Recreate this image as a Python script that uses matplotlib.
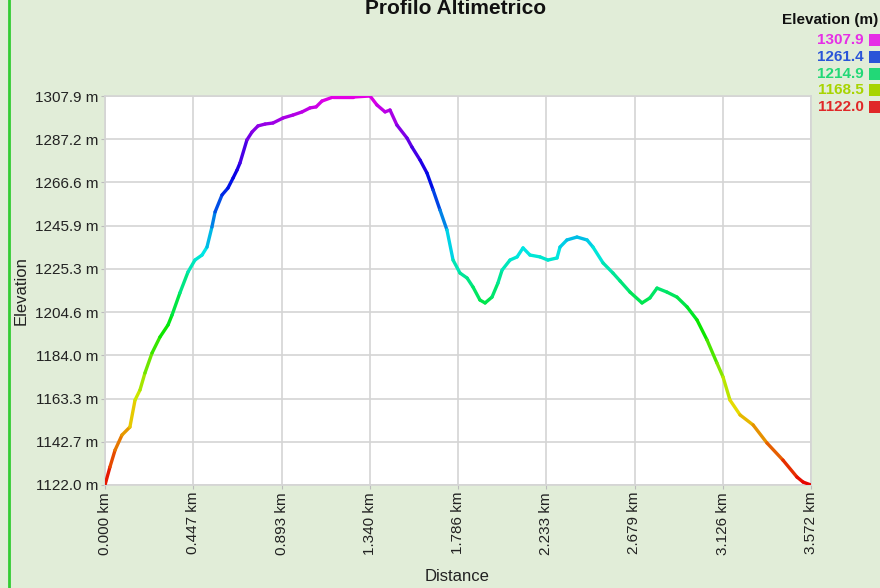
import colorsys
import numpy as np
import matplotlib
matplotlib.use("Agg")
import matplotlib.pyplot as plt
from matplotlib.collections import LineCollection
from matplotlib.patches import Rectangle

plt.rcParams['font.family'] = ['Liberation Sans', 'DejaVu Sans']

# profile (km, m)
distance_km = [0.000, 0.025, 0.051, 0.086, 0.126, 0.152, 0.177, 0.202, 0.238, 0.278,
               0.319, 0.339, 0.379, 0.420, 0.455, 0.491, 0.516, 0.541, 0.557, 0.592,
               0.622, 0.648, 0.668, 0.683, 0.718, 0.744, 0.774, 0.810, 0.850, 0.901,
               0.951, 0.997, 1.037, 1.068, 1.098, 1.154, 1.255, 1.341, 1.376, 1.417,
               1.442, 1.477, 1.528, 1.553, 1.594, 1.629, 1.660, 1.695, 1.730, 1.761,
               1.796, 1.832, 1.862, 1.897, 1.923, 1.958, 1.988, 2.009, 2.049, 2.085,
               2.115, 2.150, 2.201, 2.241, 2.287, 2.302, 2.337, 2.388, 2.439, 2.469,
               2.520, 2.570, 2.606, 2.656, 2.717, 2.757, 2.793, 2.843, 2.894, 2.945,
               2.995, 3.046, 3.096, 3.127, 3.162, 3.213, 3.279, 3.349, 3.430, 3.501,
               3.532, 3.572]
elevation_m = [1122.0, 1130.6, 1138.7, 1145.9, 1149.7, 1162.6, 1167.4, 1175.5, 1185.1, 1192.7,
               1198.5, 1203.2, 1213.8, 1223.8, 1229.5, 1231.9, 1235.7, 1245.3, 1252.5, 1260.6,
               1263.9, 1268.7, 1272.5, 1275.9, 1286.9, 1290.7, 1293.6, 1294.5, 1295.0, 1297.4,
               1298.8, 1300.3, 1302.2, 1302.7, 1305.5, 1307.4, 1307.4, 1307.9, 1303.6, 1300.3,
               1301.2, 1294.0, 1287.8, 1283.5, 1277.3, 1271.1, 1263.0, 1253.4, 1243.9, 1229.5,
               1223.3, 1220.9, 1216.6, 1210.4, 1209.0, 1211.8, 1218.5, 1224.7, 1229.5, 1231.0,
               1235.3, 1231.9, 1231.0, 1229.5, 1230.5, 1235.7, 1239.1, 1240.5, 1239.1, 1235.7,
               1228.1, 1223.3, 1219.5, 1214.2, 1209.0, 1211.4, 1216.1, 1214.2, 1211.8, 1207.1,
               1200.9, 1191.3, 1180.3, 1173.6, 1162.6, 1155.5, 1150.7, 1142.1, 1133.9, 1125.8,
               1123.4, 1122.0]

x_ticks = [0.000, 0.447, 0.893, 1.340, 1.786, 2.233, 2.679, 3.126, 3.572]
y_ticks = [1122.0, 1142.7, 1163.3, 1184.0, 1204.6, 1225.3, 1245.9, 1266.6, 1287.2, 1307.9]

legend_values = [1307.9, 1261.4, 1214.9, 1168.5, 1122.0]
legend_colors = ['#e62ee6', '#2a55d8', '#22d877', '#a8d400', '#e02828']

# hue ramp of the line: red low -> cyan -> blue -> magenta high
hue_levels = [1122.0, 1168.5, 1214.9, 1235.0, 1261.4, 1307.9]
hue_degrees = [0, 72, 148, 182, 228, 300]


def elev_color(e):
    h = np.interp(e, hue_levels, hue_degrees) / 360
    return colorsys.hsv_to_rgb(h, 1.0, 0.9)


bg = '#e1edd8'
fig = plt.figure(figsize=(8.8, 5.88), dpi=100, facecolor=bg)
ax = fig.add_axes([105 / 880, 1 - 485 / 588, 706 / 880, 389 / 588])
ax.set_facecolor('white')

x = np.array(distance_km)
y = np.array(elevation_m)
pts = np.column_stack([x, y]).reshape(-1, 1, 2)
segs = np.concatenate([pts[:-1], pts[1:]], axis=1)
mid = (y[:-1] + y[1:]) / 2
lc = LineCollection(segs, colors=[elev_color(m) for m in mid], linewidth=2.4,
                    capstyle='round', joinstyle='round', zorder=3)
ax.add_collection(lc)

ax.set_xlim(x_ticks[0], x_ticks[-1])
ax.set_ylim(y_ticks[0], y_ticks[-1])
ax.set_xticks(x_ticks)
ax.set_yticks(y_ticks)
ax.set_xticklabels([f'{v:.3f} km' for v in x_ticks], rotation=90, fontsize=11, color='#222222')
ax.set_yticklabels([f'{v:.1f} m' for v in y_ticks], fontsize=11, color='#222222')
ax.tick_params(axis='both', length=3, color='#bbbbbb', pad=2)
ax.grid(True, color='#d4d4d4', linewidth=1.2)
for s in ax.spines.values():
    s.set_color('#d4d4d4')
    s.set_linewidth(1.2)

ax.set_xlabel('Distance', fontsize=12, color='#222222')
ax.set_ylabel('Elevation', fontsize=12, color='#222222')
ax.xaxis.set_label_coords((457 - 105) / 706, -(569 - 485) / 389)
ax.yaxis.set_label_coords(-(105 - 29) / 706, 0.5)

fig.text(456 / 880, 1 - 14 / 588, 'Profilo Altimetrico', ha='center', va='baseline',
         fontsize=15, fontweight='bold', color='#111111')

fig.text(878 / 880, 1 - 20 / 588, 'Elevation (m)', ha='right', va='center',
         fontsize=11, fontweight='bold', color='#111111')
for i, (v, c) in enumerate(zip(legend_values, legend_colors)):
    yy = 1 - (40 + 16.8 * i) / 588
    fig.text(864 / 880, yy, f'{v:.1f}', ha='right', va='center',
             fontsize=11, fontweight='bold', color=c)
    fig.patches.append(Rectangle((869 / 880, yy - 6 / 588), 11 / 880, 12 / 588,
                                 transform=fig.transFigure, facecolor=c, edgecolor='none'))

# green border on the left
fig.add_artist(plt.Line2D([9 / 880, 9 / 880], [0, 1], transform=fig.transFigure,
                          color='#33cc33', linewidth=2))

fig.savefig('out.png', dpi=100, facecolor=bg)
